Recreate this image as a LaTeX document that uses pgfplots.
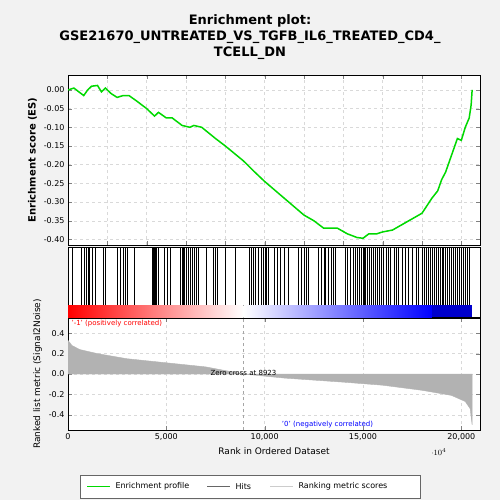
\documentclass[border=0pt]{standalone}
\usepackage{pgfplots}
\pgfplotsset{compat=1.18}
\usepackage{fontspec}
\setmainfont{DejaVu Sans}
\begin{document}
\begin{tikzpicture}
\fill[black!5] (0pt,0pt) rectangle (500pt,-500pt);
\node[font=\bfseries\fontsize{13}{16}\selectfont,align=center] at (250pt,-37pt) {Enrichment plot:\\GSE21670\_UNTREATED\_VS\_TGFB\_IL6\_TREATED\_CD4\_\\TCELL\_DN};
\pgfplotsset{every axis/.append style={scale only axis, width=412pt, xmin=0, xmax=20950, axis background/.style={fill=white},
  tick label style={font=\fontsize{8}{9}\selectfont}, /pgf/number format/assume math mode=true}}
% ES
\begin{axis}[at={(68pt,-75pt)}, anchor=north west, height=170pt, ymin=-0.415, ymax=0.04,
  xticklabels={}, ytick={0,-0.05,...,-0.4}, yticklabel style={/pgf/number format/fixed,/pgf/number format/fixed zerofill,/pgf/number format/precision=2},
  grid=major, grid style={dashed,black!15}, ylabel={\bfseries Enrichment score (ES)}, ylabel style={font=\fontsize{10}{12}\selectfont}]
\addplot[green!85!black, line width=1.5pt] coordinates {
(0,0)(300,0.005)(800,-0.015)(1000,0.0)(1200,0.01)(1500,0.012)(1700,-0.005)(1900,0.005)(2200,-0.01)(2500,-0.02)(2800,-0.015)(3100,-0.015)(3500,-0.03)(4000,-0.05)(4400,-0.07)(4600,-0.06)(5000,-0.075)(5300,-0.075)(5800,-0.095)(6200,-0.1)(6400,-0.095)(6800,-0.1)(7500,-0.13)(8000,-0.15)(8923,-0.19)(9500,-0.22)(10000,-0.245)(11000,-0.29)(12000,-0.335)(12500,-0.35)(13000,-0.37)(13700,-0.37)(14200,-0.385)(14700,-0.395)(15000,-0.397)(15300,-0.385)(15700,-0.385)(16000,-0.38)(16500,-0.375)(17000,-0.36)(17500,-0.345)(18000,-0.33)(18500,-0.29)(18800,-0.27)(19000,-0.24)(19200,-0.22)(19400,-0.19)(19600,-0.16)(19800,-0.13)(20000,-0.135)(20200,-0.1)(20400,-0.075)(20500,-0.04)(20550,0.0)};
\end{axis}
% hits
\begin{axis}[at={(68pt,-247pt)}, anchor=north west, height=70pt, ymin=0, ymax=1.2, ytick=\empty, xtick=\empty]
\addplot[ycomb, black, mark=none, line width=0.3pt] table[x index=0, y expr=1.2] {
200
650
800
900
1000
1100
1250
1400
1800
1900
2500
2650
2800
2900
3000
3350
4300
4350
4400
4450
4500
4600
4900
5050
5200
5700
5800
5850
5900
6000
6100
6200
6300
6400
6500
6600
7000
7400
7500
7600
8000
8500
9200
9300
9400
9500
9650
9800
9900
10000
10100
10200
10500
10650
10800
11000
11200
11700
11850
12000
12100
12200
12700
12850
13000
13100
13250
13400
13500
13600
14100
14200
14350
14500
14600
14700
14800
14900
15000
15050
15100
15200
15300
15400
15500
15600
15700
15800
15900
16000
16200
16300
16400
16600
16700
16800
17000
17150
17300
17500
17700
17800
18000
18100
18200
18300
18400
18500
18600
18700
18800
18900
19000
19100
19200
19300
19400
19500
19600
19700
19800
19900
20000
20100
20200
20300
20400
};
\fill[left color=red, right color=white] (axis cs:0,0) rectangle (axis cs:8923,0.2);
\fill[left color=white, right color=blue] (axis cs:8923,0) rectangle (axis cs:18500,0.2);
\fill[blue!80!black] (axis cs:18500,0) rectangle (axis cs:20550,0.2);
\end{axis}
% metric
\begin{axis}[at={(68pt,-318pt)}, anchor=north west, height=112pt, ymin=-0.55, ymax=0.55, ytick={-0.4,-0.2,0,0.2,0.4},
  yticklabel style={/pgf/number format/fixed,/pgf/number format/fixed zerofill,/pgf/number format/precision=1},
  xtick={0,5000,10000,15000,20000}, xticklabels={0,{5,000},{10,000},{15,000},{20,000}},
  grid=major, grid style={dashed,black!15}, xlabel={Rank in Ordered Dataset}, ylabel={Ranked list metric (Signal2Noise)},
  xlabel style={font=\fontsize{9}{11}\selectfont}, ylabel style={font=\fontsize{9}{11}\selectfont}]
\addplot[fill=black!30, draw=black!30] coordinates {(0,0)(0,0.33)(200,0.28)(600,0.24)(1500,0.2)(3000,0.15)(5000,0.11)(7000,0.07)(8923,0)(11000,-0.04)(14000,-0.08)(16000,-0.11)(18000,-0.16)(19500,-0.21)(20200,-0.27)(20450,-0.34)(20550,-0.5)(20550,0)} \closedcycle;
\draw[dashed, black!35] (axis cs:8923,-0.55) -- (axis cs:8923,0.55);
\node[font=\fontsize{7}{8}\selectfont] at (axis cs:8923,0.01) {Zero cross at 8923};
\node[font=\fontsize{7}{8}\selectfont, red, anchor=west] at (axis cs:0,0.5) {'-1' (positively correlated)};
\node[font=\fontsize{7}{8}\selectfont, blue, anchor=west] at (axis cs:10700,-0.5) {'0' (negatively correlated)};
\end{axis}
% legend
\draw[black!60, fill=white] (80pt,-475pt) rectangle (420pt,-498pt);
\draw[green!85!black, line width=1.5pt] (87pt,-486.5pt) -- (110pt,-486.5pt);
\node[anchor=west, font=\fontsize{8}{9}\selectfont] at (112pt,-486.5pt) {Enrichment profile};
\draw[black!60, line width=1.5pt] (207pt,-486.5pt) -- (230pt,-486.5pt);
\node[anchor=west, font=\fontsize{8}{9}\selectfont] at (232pt,-486.5pt) {Hits};
\draw[black!20, line width=1.5pt] (270pt,-486.5pt) -- (293pt,-486.5pt);
\node[anchor=west, font=\fontsize{8}{9}\selectfont] at (295pt,-486.5pt) {Ranking metric scores};
\end{tikzpicture}
\end{document}
